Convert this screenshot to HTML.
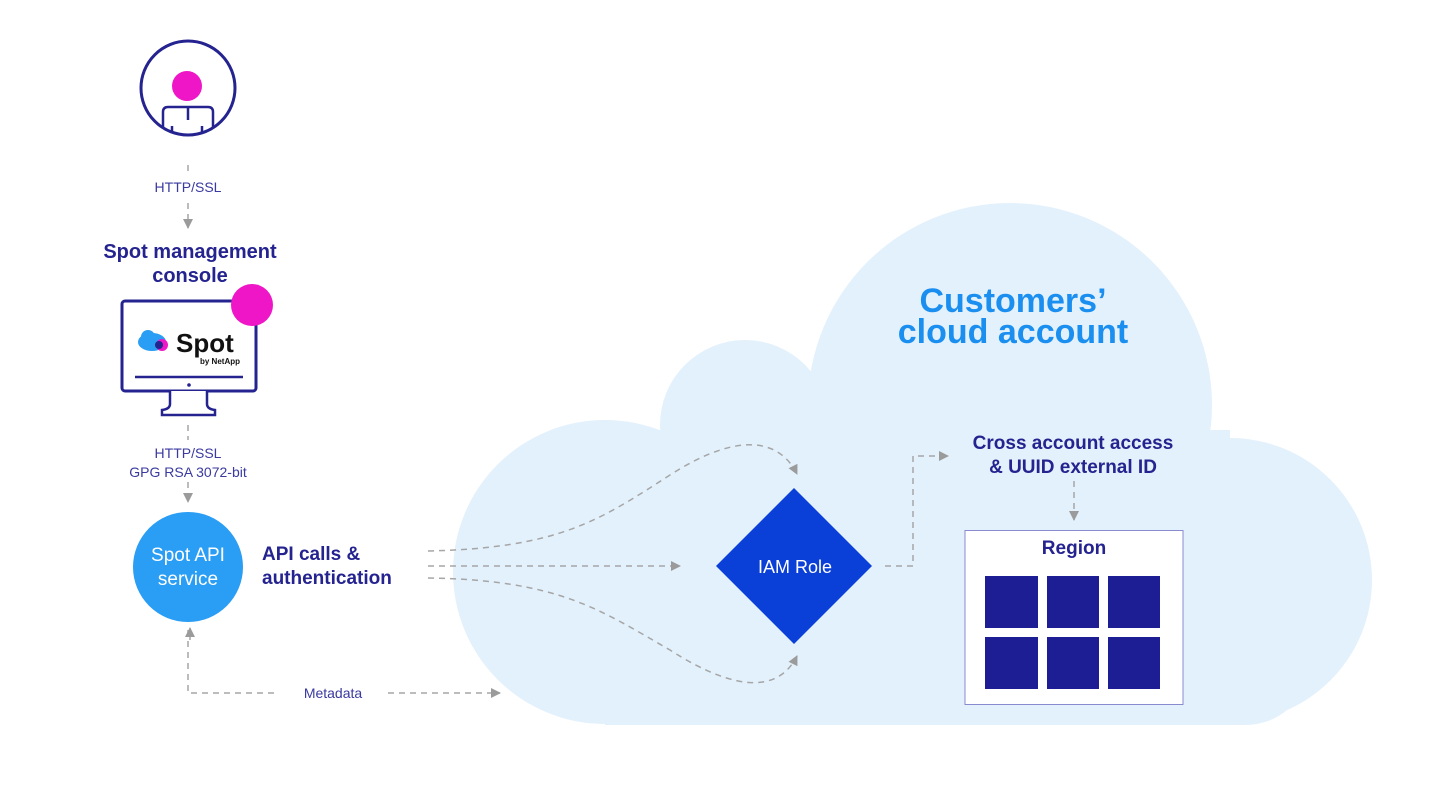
<!DOCTYPE html>
<html><head><meta charset="utf-8"><style>
html,body{margin:0;padding:0;background:#fff;}
svg{display:block;}
text{font-family:"Liberation Sans",sans-serif;}
</style></head><body>
<svg width="1440" height="800" viewBox="0 0 1440 800" xmlns="http://www.w3.org/2000/svg">
<defs>
<marker id="ah" viewBox="0 0 10 10" refX="9" refY="5" markerWidth="10" markerHeight="10" markerUnits="userSpaceOnUse" orient="auto"><path d="M0,0 L10,5 L0,10 z" fill="#9b9b9b"/></marker>
<clipPath id="pc"><circle cx="188" cy="88" r="46"/></clipPath>
</defs>
<!-- cloud -->
<g fill="#e3f1fc">
<circle cx="605" cy="572" r="152"/>
<circle cx="745" cy="425" r="85"/>
<circle cx="1010" cy="405" r="202"/>
<circle cx="1230" cy="580" r="142"/>
<rect x="605" y="430" width="625" height="295"/>
<rect x="1100" y="560" width="130" height="165"/>
<rect x="605" y="620" width="700" height="105" rx="60"/>
</g>
<text x="1013" y="312" text-anchor="middle" font-size="34" font-weight="bold" fill="#1b8ff0">Customers’</text>
<text x="1013" y="343" text-anchor="middle" font-size="34" font-weight="bold" fill="#1b8ff0">cloud account</text>

<!-- person -->
<circle cx="188" cy="88" r="47" fill="#fff" stroke="#24238f" stroke-width="3"/>
<circle cx="187" cy="86" r="15" fill="#ee16c6"/>
<g clip-path="url(#pc)" stroke="#24238f" stroke-width="2.5" fill="none">
<path d="M163,150 V112 Q163,107 168,107 H208 Q213,107 213,112 V150"/>
<line x1="188" y1="107" x2="188" y2="120"/>
<line x1="172" y1="126" x2="172" y2="150"/>
<line x1="202" y1="126" x2="202" y2="150"/>
</g>

<g stroke="#a6a6a6" stroke-width="1.5" stroke-dasharray="6,5" fill="none">
<line x1="188" y1="165" x2="188" y2="172"/>
<line x1="188" y1="203" x2="188" y2="228" marker-end="url(#ah)"/>
<line x1="188" y1="425" x2="188" y2="440"/>
<line x1="188" y1="482" x2="188" y2="502" marker-end="url(#ah)"/>
<path d="M188,630 V693 H275"/>
<path d="M190,640 V628" marker-end="url(#ah)"/>
<path d="M388,693 H500" marker-end="url(#ah)"/>
<path d="M428,551 C560,548 600,520 670,475 C740,430 780,440 797,474" marker-end="url(#ah)"/>
<line x1="428" y1="566" x2="680" y2="566" marker-end="url(#ah)"/>
<path d="M428,578 C560,580 600,610 670,650 C740,695 780,690 797,656" marker-end="url(#ah)"/>
<path d="M885,566 H913 V456 H948" marker-end="url(#ah)"/>
<line x1="1074" y1="481" x2="1074" y2="520" marker-end="url(#ah)"/>
</g>
<text x="188" y="192" text-anchor="middle" font-size="14" fill="#3a3aa0">HTTP/SSL</text>
<text x="190" y="258" text-anchor="middle" font-size="20" font-weight="bold" fill="#24238f">Spot management</text>
<text x="190" y="282" text-anchor="middle" font-size="20" font-weight="bold" fill="#24238f">console</text>
<text x="188" y="458" text-anchor="middle" font-size="14" fill="#3a3aa0">HTTP/SSL</text>
<text x="188" y="477" text-anchor="middle" font-size="14" fill="#3a3aa0">GPG RSA 3072-bit</text>
<text x="333" y="698" text-anchor="middle" font-size="14" fill="#3a3aa0">Metadata</text>

<!-- monitor -->
<rect x="122" y="301" width="134" height="90" rx="3" fill="#fff" stroke="#24238f" stroke-width="3"/>
<circle cx="252" cy="305" r="21" fill="#ee16c6"/>
<line x1="135" y1="377" x2="243" y2="377" stroke="#24238f" stroke-width="2.5"/>
<circle cx="189" cy="385" r="1.8" fill="#24238f"/>
<path d="M170,391 V404 Q170,409 162,410 V415 H215 V410 Q207,409 207,404 V391" fill="#fff" stroke="#24238f" stroke-width="2.5"/>
<ellipse cx="152" cy="342" rx="14" ry="9" fill="#2a9df4"/>
<circle cx="148" cy="337" r="7" fill="#2a9df4"/>
<circle cx="162" cy="345" r="6" fill="#ee16c6"/>
<circle cx="159" cy="345" r="4" fill="#24238f"/>
<text x="176" y="352" font-size="26" font-weight="bold" fill="#111">Spot</text>
<text x="240" y="364" text-anchor="end" font-size="8" font-weight="bold" fill="#111">by NetApp</text>

<!-- spot api -->
<circle cx="188" cy="567" r="55" fill="#2a9df4"/>
<text x="188" y="561" text-anchor="middle" font-size="19" fill="#fff">Spot API</text>
<text x="188" y="585" text-anchor="middle" font-size="19" fill="#fff">service</text>
<text x="262" y="560" font-size="19" font-weight="bold" fill="#24238f">API calls &amp;</text>
<text x="262" y="584" font-size="19" font-weight="bold" fill="#24238f">authentication</text>

<!-- diamond -->
<path d="M794,488 L872,566 L794,644 L716,566z" fill="#0a3fd8"/>
<text x="795" y="573" text-anchor="middle" font-size="18" fill="#fff">IAM Role</text>

<text x="1073" y="449" text-anchor="middle" font-size="19" font-weight="bold" fill="#24238f">Cross account access</text>
<text x="1073" y="473" text-anchor="middle" font-size="19" font-weight="bold" fill="#24238f">&amp; UUID external ID</text>

<rect x="965" y="530.5" width="218" height="174" fill="#fff" stroke="#8a8ad0" stroke-width="1"/>
<text x="1074" y="554" text-anchor="middle" font-size="19" font-weight="bold" fill="#24238f">Region</text>
<g fill="#1e1e94">
<rect x="985" y="576" width="53" height="52"/><rect x="1047" y="576" width="52" height="52"/><rect x="1108" y="576" width="52" height="52"/>
<rect x="985" y="637" width="53" height="52"/><rect x="1047" y="637" width="52" height="52"/><rect x="1108" y="637" width="52" height="52"/>
</g>
</svg>
</body></html>
